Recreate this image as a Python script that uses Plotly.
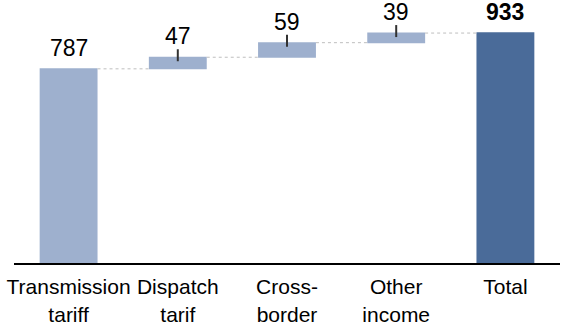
import numpy as np
import plotly.graph_objects as go

categories = ["Transmission<br>tariff", "Dispatch<br>tarif", "Cross-<br>border", "Other<br>income", "Total"]
values = [787, 47, 59, 39, 933]
measures = ["relative", "relative", "relative", "relative", "absolute"]
labels = ["787", "47", "59", "39", "<b>933</b>"]

light = "rgb(158,176,206)"
dark = "rgb(74,107,153)"
font = "Liberation Sans, Arial, sans-serif"

fig = go.Figure()
fig.add_trace(go.Waterfall(
    x=categories, y=values, measure=measures,
    increasing=dict(marker=dict(color=light, line=dict(width=0))),
    decreasing=dict(marker=dict(color=light, line=dict(width=0))),
    totals=dict(marker=dict(color=dark, line=dict(width=0))),
    connector=dict(mode="between", line=dict(color="rgb(190,190,190)", width=1, dash="dot")),
    textinfo="none", hoverinfo="skip", showlegend=False,
))

# cumulative tops
tops = []
run = 0
for v, m in zip(values, measures):
    run = v if m == "absolute" else run + v
    tops.append(run)

for i, (c, t, lab) in enumerate(zip(categories, tops, labels)):
    fig.add_annotation(x=c, y=t, text=lab, showarrow=False, yanchor="bottom",
                       yshift=6, font=dict(family=font, size=23, color="black"))
    if 0 < i < len(categories) - 1:
        fig.add_shape(type="line", xref="x", yref="y", x0=c, x1=c,
                      ysizemode="pixel", yanchor=t, y0=-4, y1=8,
                      line=dict(color="rgb(50,50,50)", width=2))

fig.update_layout(
    width=562, height=332,
    margin=dict(l=14, r=2, t=0, b=69),
    paper_bgcolor="white", plot_bgcolor="white",
    waterfallgap=0.47,
    font=dict(family=font, size=21, color="black"),
    xaxis=dict(showline=True, linecolor="black", linewidth=2, showgrid=False,
               ticks="", ticklabelstandoff=4,
               tickfont=dict(size=21, family=font, color="black")),
    yaxis=dict(visible=False, range=[0, 1066], showgrid=False, zeroline=False),
)
fig.write_html("out.html")
